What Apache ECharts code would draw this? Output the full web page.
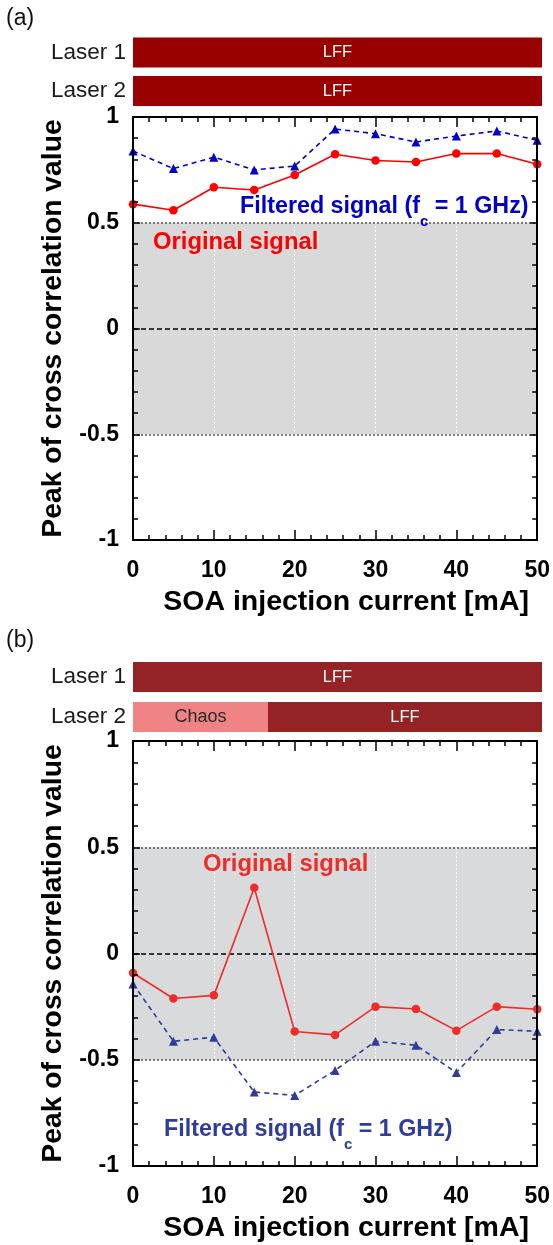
<!DOCTYPE html>
<html>
<head>
<meta charset="utf-8">
<script src="https://cdn.jsdelivr.net/npm/echarts@6/dist/echarts.min.js"></script>
<style>
  html, body { margin: 0; padding: 0; background: #fff; }
  #chart { width: 553px; height: 1245px; }
</style>
</head>
<body>
<div id="chart"></div>
<script>
// SOA injection current (mA)
const currents = [0, 5, 10, 15, 20, 25, 30, 35, 40, 45, 50];
// Panel (a): peak of cross-correlation
const originalA = [0.588, 0.559, 0.668, 0.655, 0.726, 0.824, 0.794, 0.787, 0.827, 0.827, 0.777];
const filteredA = [0.839, 0.756, 0.810, 0.750, 0.768, 0.943, 0.921, 0.882, 0.910, 0.934, 0.890];
// Panel (b): peak of cross-correlation
const originalB = [-0.092, -0.212, -0.197, 0.309, -0.367, -0.383, -0.250, -0.261, -0.363, -0.250, -0.262];
const filteredB = [-0.143, -0.413, -0.394, -0.652, -0.668, -0.550, -0.413, -0.432, -0.560, -0.358, -0.366];
// Axis ticks
const xTicks = [0, 10, 20, 30, 40, 50];
const yTicks = [-1, -0.5, 0, 0.5, 1];
// Dynamics regimes of each laser (width of each regime along the current axis, mA)
const lasers = ['Laser 1', 'Laser 2'];
const chaosA = [0, 0];
const lffA = [50, 50];
const chaosB = [0, 16.5];
const lffB = [50, 33.5];

const FONT = '"Liberation Sans", Arial, Helvetica, sans-serif';
const pairs = (xs, ys) => xs.map((x, i) => [x, ys[i]]);

const measureCtx = document.createElement('canvas').getContext('2d');
function textWidth(str, size, weight) {
  measureCtx.font = weight + ' ' + size + 'px ' + FONT;
  return measureCtx.measureText(str).width;
}

function plainText(x, y, text, color, size, weight) {
  return {
    type: 'text', x: x, y: y, z: 100, silent: true,
    style: { text: text, fill: color, fontSize: size, fontWeight: weight,
             fontFamily: FONT, verticalAlign: 'middle', align: 'left' }
  };
}

// "Filtered signal (f_c = 1 GHz)" with a subscript c
function filteredCaption(x, y, color) {
  const head = 'Filtered signal (f', sub = 'c', tail = ' = 1 GHz)';
  const wHead = textWidth(head, 23.3, 'bold');
  const wSub = textWidth(sub, 15, 'bold');
  return {
    type: 'group', x: x, y: y, z: 100, silent: true,
    children: [
      plainText(0, 0, head, color, 23.3, 'bold'),
      plainText(wHead, 15, sub, color, 15, 'bold'),
      plainText(wHead + wSub, 0, tail, color, 23.3, 'bold')
    ]
  };
}

const tickStyle = { color: '#000', width: 1.5 };

function xAxisPair(grid) {
  return [
    {
      gridIndex: grid, type: 'value', position: 'bottom', min: 0, max: 50, interval: 10, z: 20,
      axisLine: { show: true, onZero: false, lineStyle: { color: '#000', width: 2 } },
      axisTick: { show: true, inside: true, length: 10, lineStyle: tickStyle },
      minorTick: { show: true, splitNumber: 5, length: 5, lineStyle: tickStyle },
      splitLine: { show: false },
      axisLabel: { show: true, margin: 19, color: '#000', fontSize: 23, fontWeight: 'bold', fontFamily: FONT,
                   formatter: v => (xTicks.indexOf(v) >= 0 ? String(v) : '') },
      name: 'SOA injection current [mA]', nameLocation: 'middle', nameGap: 48,
      nameTextStyle: { color: '#000', fontSize: 28.5, fontWeight: 'bold', fontFamily: FONT,
                       padding: [0, 0, 0, 22] }
    },
    {
      gridIndex: grid, type: 'value', position: 'top', min: 0, max: 50, interval: 10, z: 20,
      axisLine: { show: true, onZero: false, lineStyle: { color: '#000', width: 2 } },
      axisTick: { show: true, inside: true, length: 10, lineStyle: tickStyle },
      minorTick: { show: true, splitNumber: 5, length: 5, lineStyle: tickStyle },
      splitLine: { show: false },
      axisLabel: { show: false }
    }
  ];
}

function yAxisPair(grid) {
  return [
    {
      gridIndex: grid, type: 'value', position: 'left', min: -1, max: 1, interval: 0.5, z: 20,
      axisLine: { show: true, onZero: false, lineStyle: { color: '#000', width: 2 } },
      axisTick: { show: true, inside: true, length: 7, lineStyle: tickStyle },
      minorTick: { show: true, splitNumber: 5, length: 5, lineStyle: tickStyle },
      splitLine: { show: false },
      axisLabel: { show: true, margin: 14, color: '#000', fontSize: 23, fontWeight: 'bold', fontFamily: FONT,
                   formatter: v => (yTicks.indexOf(v) >= 0 ? String(v) : '') },
      name: 'Peak of cross correlation value', nameLocation: 'middle', nameGap: 66,
      nameTextStyle: { color: '#000', fontSize: 28.3, fontWeight: 'bold', fontFamily: FONT }
    },
    {
      gridIndex: grid, type: 'value', position: 'right', min: -1, max: 1, interval: 0.5, z: 20,
      axisLine: { show: true, onZero: false, lineStyle: { color: '#000', width: 2 } },
      axisTick: { show: true, inside: true, length: 7, lineStyle: tickStyle },
      minorTick: { show: true, splitNumber: 5, length: 5, lineStyle: tickStyle },
      splitLine: { show: false },
      axisLabel: { show: false }
    }
  ];
}

function regimeXAxis(grid) {
  return { gridIndex: grid, type: 'value', min: 0, max: 50, show: false };
}
function regimeYAxis(grid) {
  return {
    gridIndex: grid, type: 'category', data: lasers, inverse: true,
    axisLine: { show: false }, axisTick: { show: false }, splitLine: { show: false },
    axisLabel: { show: true, margin: 7, color: '#1a1a1a', fontSize: 22.5, fontFamily: FONT,
                 padding: [4, 0, 0, 0] }
  };
}

function regimeSeries(xi, yi, chaos, lff, lffColor) {
  return [
    {
      type: 'bar', name: 'Chaos', xAxisIndex: xi, yAxisIndex: yi, stack: 'regime' + xi,
      data: chaos, barWidth: 30, silent: true,
      itemStyle: { color: '#f08383' },
      label: { show: true, position: 'inside', color: '#2a2a2a', fontSize: 18, fontFamily: FONT,
               formatter: p => (p.value > 0 ? 'Chaos' : '') }
    },
    {
      type: 'bar', name: 'LFF', xAxisIndex: xi, yAxisIndex: yi, stack: 'regime' + xi,
      data: lff, barWidth: 30, silent: true,
      itemStyle: { color: lffColor },
      label: { show: true, position: 'inside', color: '#fff', fontSize: 16.5, fontFamily: FONT,
               formatter: p => (p.value > 0 ? 'LFF' : '') }
    }
  ];
}

function bandMarkers(gray) {
  const verticals = [10, 20, 30, 40].map(v => ({
    xAxis: v, lineStyle: { color: '#fff', type: [2, 2], width: 1 }
  }));
  return {
    markArea: {
      silent: true, itemStyle: { color: gray },
      data: [[{ yAxis: -0.5 }, { yAxis: 0.5 }]]
    },
    markLine: {
      silent: true, symbol: ['none', 'none'], label: { show: false }, animation: false,
      data: verticals.concat([
        { yAxis: 0.5, lineStyle: { color: '#555', type: [2, 2], width: 1.5 } },
        { yAxis: -0.5, lineStyle: { color: '#555', type: [2, 2], width: 1.5 } },
        { yAxis: 0, lineStyle: { color: '#000', type: [5, 3], width: 1.5 } }
      ])
    }
  };
}

function curve(xi, yi, values, color, symbol, size, dashed, markers) {
  return Object.assign({
    type: 'line', xAxisIndex: xi, yAxisIndex: yi, z: 10,
    data: pairs(currents, values),
    symbol: symbol, symbolSize: size, showSymbol: true,
    lineStyle: { color: color, width: 1.6, type: dashed ? [5, 4] : 'solid' },
    itemStyle: { color: color },
    silent: true
  }, markers || {});
}

const chart = echarts.init(document.getElementById('chart'), null, { renderer: 'canvas' });

const xA = xAxisPair(1), xB = xAxisPair(3);
const yA = yAxisPair(1), yB = yAxisPair(3);

chart.setOption({
  animation: false,
  backgroundColor: '#fff',
  grid: [
    { left: 133, right: 11, top: 33.25, height: 77 },
    { left: 133, right: 14, top: 117, height: 423 },
    { left: 133, right: 11, top: 657, height: 80 },
    { left: 133, right: 14, top: 741, height: 425 }
  ],
  xAxis: [regimeXAxis(0), xA[0], xA[1], regimeXAxis(2), xB[0], xB[1]],
  yAxis: [regimeYAxis(0), yA[0], yA[1], regimeYAxis(2), yB[0], yB[1]],
  series: [
    ...regimeSeries(0, 0, chaosA, lffA, '#990000'),
    curve(1, 1, originalA, '#ff0000', 'circle', 8.5, false, bandMarkers('#d9d9d9')),
    curve(1, 1, filteredA, '#0000cc', 'triangle', 9, true),
    ...regimeSeries(3, 3, chaosB, lffB, '#952225'),
    curve(4, 4, originalB, '#ec2d2a', 'circle', 8.5, false, bandMarkers('#d9dadb')),
    curve(4, 4, filteredB, '#2f3d9a', 'triangle', 9, true)
  ],
  graphic: [
    plainText(6, 19, '(a)', '#111', 23, 'normal'),
    plainText(6, 641, '(b)', '#111', 23, 'normal'),
    filteredCaption(240, 207, '#0000cc'),
    plainText(153, 242, 'Original signal', '#ff0000', 23.8, 'bold'),
    plainText(203, 864, 'Original signal', '#ec2d2a', 23.8, 'bold'),
    filteredCaption(164, 1130, '#2f3d9a')
  ]
});
</script>
</body>
</html>
